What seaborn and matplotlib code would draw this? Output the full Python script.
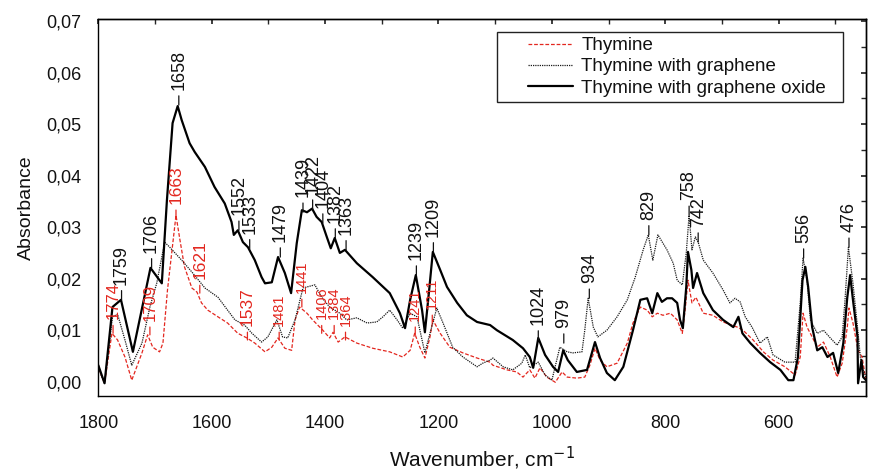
import numpy as np
import pandas as pd
import matplotlib
matplotlib.use("Agg")
import matplotlib.pyplot as plt
from matplotlib.ticker import MultipleLocator, FuncFormatter
from matplotlib.patches import Rectangle
import seaborn as sns

# ---------------- data ----------------
go_wn = [1800, 1789, 1775, 1760, 1739, 1708, 1688, 1679, 1669, 1660, 1653, 1639, 1630, 1612, 1595,
         1577, 1565, 1561, 1554, 1545, 1536, 1524, 1512, 1506, 1494, 1483, 1471, 1460, 1450, 1441,
         1432, 1423, 1415, 1406, 1397, 1390, 1383, 1374, 1365, 1344, 1316, 1286, 1268, 1259, 1250,
         1240, 1229, 1224, 1217, 1210, 1197, 1185, 1167, 1150, 1132, 1109, 1097, 1069, 1051, 1039,
         1033, 1024, 1012, 998, 989, 980, 972, 956, 938, 924, 915, 903, 889, 874, 857, 844, 832,
         823, 814, 806, 797, 788, 779, 774, 769, 763, 760, 754, 751, 744, 733, 716, 698, 680, 671,
         664, 650, 633, 615, 597, 583, 574, 566, 558, 553, 548, 541, 532, 523, 514, 504, 495, 486,
         479, 474, 469, 461, 460, 454, 451, 446]
go_abs = [0.0032, -0.0003, 0.0145, 0.0159, 0.0058, 0.0221, 0.0191, 0.0352, 0.0502, 0.0535, 0.0508,
          0.0463, 0.0446, 0.0417, 0.0378, 0.0346, 0.0310, 0.0285, 0.0294, 0.0271, 0.0261, 0.0236,
          0.0203, 0.0191, 0.0193, 0.0242, 0.0211, 0.0172, 0.0269, 0.0333, 0.0329, 0.0336, 0.0320,
          0.0310, 0.0281, 0.0259, 0.0279, 0.0250, 0.0256, 0.0230, 0.0203, 0.0172, 0.0133, 0.0104,
          0.0159, 0.0207, 0.0139, 0.0096, 0.0172, 0.0252, 0.0217, 0.0184, 0.0153, 0.0129, 0.0116,
          0.0110, 0.0100, 0.0081, 0.0065, 0.0048, 0.0027, 0.0085, 0.0052, 0.0029, 0.0019, 0.0061,
          0.0042, 0.0019, 0.0023, 0.0077, 0.0046, 0.0017, 0.0003, 0.0029, 0.0100, 0.0159, 0.0162,
          0.0133, 0.0172, 0.0155, 0.0162, 0.0162, 0.0153, 0.0120, 0.0104, 0.0184, 0.0252, 0.0217,
          0.0182, 0.0211, 0.0172, 0.0139, 0.0120, 0.0106, 0.0126, 0.0094, 0.0075, 0.0056, 0.0038,
          0.0023, 0.0003, 0.0003, 0.0048, 0.0197, 0.0223, 0.0184, 0.0106, 0.0061, 0.0067, 0.0048,
          0.0056, 0.0017, 0.0075, 0.0164, 0.0207, 0.0159, 0.0087, -0.0003, 0.0042, 0.0009, 0.0003]

gr_wn = [1800, 1789, 1775, 1766, 1753, 1741, 1723, 1709, 1697, 1688, 1683, 1674, 1653, 1635, 1612,
         1589, 1572, 1559, 1542, 1529, 1512, 1501, 1485, 1475, 1466, 1453, 1439, 1418, 1406, 1392,
         1374, 1362, 1344, 1326, 1309, 1298, 1286, 1273, 1263, 1250, 1238, 1229, 1224, 1215, 1203,
         1192, 1175, 1157, 1132, 1122, 1109, 1104, 1086, 1069, 1053, 1047, 1039, 1024, 1012, 1000,
         986, 973, 963, 947, 942, 936, 927, 919, 903, 885, 867, 853, 839, 830, 822, 813, 797, 786,
         779, 770, 763, 758, 753, 747, 742, 733, 716, 698, 686, 677, 668, 659, 647, 633, 620, 610,
         589, 571, 562, 557, 550, 544, 532, 521, 509, 497, 488, 483, 477, 469, 461, 456, 451, 446]
gr_abs = [0.0027, -0.0003, 0.0126, 0.0131, 0.0081, 0.0032, 0.0075, 0.0145, 0.0191, 0.0242, 0.0271,
          0.0261, 0.0236, 0.0213, 0.0182, 0.0164, 0.0139, 0.0120, 0.0110, 0.0094, 0.0077, 0.0087,
          0.0120, 0.0087, 0.0085, 0.0120, 0.0182, 0.0188, 0.0164, 0.0145, 0.0133, 0.0120, 0.0124,
          0.0114, 0.0116, 0.0126, 0.0139, 0.0120, 0.0104, 0.0133, 0.0126, 0.0081, 0.0056, 0.0094,
          0.0143, 0.0114, 0.0067, 0.0048, 0.0029, 0.0036, 0.0042, 0.0046, 0.0029, 0.0023, 0.0036,
          0.0052, 0.0027, 0.0038, 0.0013, 0.0003, 0.0067, 0.0058, 0.0056, 0.0058, 0.0100, 0.0162,
          0.0106, 0.0087, 0.0100, 0.0126, 0.0159, 0.0203, 0.0256, 0.0285, 0.0236, 0.0285, 0.0256,
          0.0230, 0.0197, 0.0188, 0.0250, 0.0323, 0.0256, 0.0281, 0.0271, 0.0236, 0.0211, 0.0178,
          0.0153, 0.0162, 0.0155, 0.0126, 0.0106, 0.0075, 0.0087, 0.0052, 0.0038, 0.0038, 0.0153,
          0.0240, 0.0197, 0.0120, 0.0094, 0.0100, 0.0085, 0.0071, 0.0087, 0.0159, 0.0261, 0.0191,
          0.0106, 0.0048, 0.0023, 0.0009]

th_wn = [1800, 1789, 1776, 1766, 1753, 1741, 1723, 1713, 1704, 1692, 1686, 1678, 1663, 1656, 1648,
         1635, 1626, 1618, 1607, 1589, 1572, 1554, 1538, 1524, 1506, 1494, 1483, 1471, 1459, 1453,
         1445, 1432, 1422, 1404, 1392, 1386, 1377, 1365, 1344, 1316, 1286, 1263, 1250, 1242, 1233,
         1224, 1215, 1210, 1197, 1180, 1157, 1132, 1109, 1104, 1079, 1062, 1051, 1039, 1030, 1021,
         1009, 994, 982, 973, 956, 942, 933, 924, 915, 903, 885, 867, 857, 844, 832, 823, 814, 804,
         791, 779, 770, 765, 760, 753, 746, 733, 716, 698, 673, 663, 645, 627, 610, 589, 571, 562,
         557, 550, 541, 532, 521, 509, 497, 488, 479, 476, 469, 460, 453, 446]
th_abs = [0.0027, -0.0003, 0.0094, 0.0081, 0.0048, 0.0003, 0.0056, 0.0091, 0.0067, 0.0058, 0.0075,
          0.0178, 0.0323, 0.0275, 0.0223, 0.0182, 0.0174, 0.0153, 0.0139, 0.0126, 0.0114, 0.0094,
          0.0085, 0.0075, 0.0058, 0.0067, 0.0085, 0.0065, 0.0061, 0.0120, 0.0145, 0.0133, 0.0120,
          0.0100, 0.0085, 0.0096, 0.0077, 0.0087, 0.0075, 0.0065, 0.0058, 0.0048, 0.0061, 0.0094,
          0.0067, 0.0046, 0.0087, 0.0120, 0.0094, 0.0067, 0.0056, 0.0046, 0.0038, 0.0032, 0.0023,
          0.0019, 0.0009, 0.0023, 0.0007, 0.0027, 0.0009, -0.0001, 0.0019, 0.0009, 0.0007, 0.0009,
          0.0032, 0.0065, 0.0042, 0.0029, 0.0036, 0.0075, 0.0114, 0.0145, 0.0139, 0.0126, 0.0133,
          0.0129, 0.0133, 0.0120, 0.0094, 0.0139, 0.0197, 0.0153, 0.0164, 0.0133, 0.0129, 0.0116,
          0.0106, 0.0100, 0.0081, 0.0058, 0.0042, 0.0029, 0.0013, 0.0048, 0.0133, 0.0106, 0.0087,
          0.0067, 0.0077, 0.0048, 0.0009, 0.0036, 0.0106, 0.0143, 0.0114, 0.0061, 0.0048, 0.0003]

series_names = ["Thymine", "Thymine with graphene", "Thymine with graphene oxide"]

black_labels = ["1759", "1706", "1658", "1552", "1533", "1479", "1439", "1422", "1404", "1382",
                "1363", "1239", "1209", "1024", "979", "934", "829", "758", "742", "556", "476"]
black_label_abs = [0.0159, 0.0221, 0.0537, 0.0294, 0.0258, 0.0242, 0.0329, 0.0335, 0.0308, 0.0279,
                   0.0256, 0.0207, 0.0252, 0.0081, 0.0075, 0.0162, 0.0285, 0.0323, 0.0271, 0.0240,
                   0.0261]
red_labels = ["1774", "1709", "1663", "1621", "1537", "1481", "1441", "1406", "1384", "1364",
              "1241", "1211"]
red_label_abs = [0.0094, 0.0091, 0.0318, 0.0172, 0.0081, 0.0081, 0.0145, 0.0094, 0.0094, 0.0081,
                 0.0091, 0.0114]

x_ticks = [1800, 1600, 1400, 1200, 1000, 800, 600]
y_ticks = [0.00, 0.01, 0.02, 0.03, 0.04, 0.05, 0.06, 0.07]

# ---------------- style ----------------
sns.set_theme(style="white")
plt.rcParams["font.family"] = ["Liberation Sans", "DejaVu Sans"]
plt.rcParams["axes.edgecolor"] = "black"
plt.rcParams["axes.linewidth"] = 1.0

RED = "#e3271f"
INK = "#111111"
red_sizes = [12, 12, 12.5, 12.5, 12.5, 10.5, 10.5, 10.5, 10.5, 10.5, 10.5, 10.5]

fig = plt.figure(figsize=(8.7, 4.72), dpi=100)
ax = fig.add_axes([0.1130, 0.161, 0.8824, 0.7987])

df_th = pd.DataFrame({"wn": th_wn, "A": th_abs})
df_gr = pd.DataFrame({"wn": gr_wn, "A": gr_abs})
df_go = pd.DataFrame({"wn": go_wn, "A": go_abs})

sns.lineplot(data=df_th, x="wn", y="A", ax=ax, color=RED, lw=0.9,
             linestyle=(0, (3, 1.5)), estimator=None, label=series_names[0])
sns.lineplot(data=df_gr, x="wn", y="A", ax=ax, color="#1a1a1a", lw=0.9,
             linestyle=(0, (1, 0.8)), estimator=None, label=series_names[1])
sns.lineplot(data=df_go, x="wn", y="A", ax=ax, color="black", lw=1.6,
             linestyle="-", estimator=None, label=series_names[2])

ax.set_xlim(1800, 446)
ax.set_ylim(-0.00277, 0.0704)
ax.set_xticks(x_ticks)
ax.set_yticks(y_ticks)
ax.xaxis.set_minor_locator(MultipleLocator(100))
ax.yaxis.set_minor_locator(MultipleLocator(0.005))
ax.yaxis.set_major_formatter(FuncFormatter(lambda v, p: f"{v:.2f}".replace(".", ",")))
ax.tick_params(axis="both", which="major", direction="out", length=7, width=1,
               color="black", labelsize=13, labelcolor=INK)
ax.tick_params(axis="both", which="minor", direction="out", length=4, width=1, color="black")
ax.tick_params(axis="x", which="major", pad=7)
ax.tick_params(axis="y", which="major", pad=5)

secx = ax.secondary_xaxis("top")
secx.set_xticks(x_ticks)
secx.xaxis.set_minor_locator(MultipleLocator(100))
secx.tick_params(axis="x", which="both", direction="in", length=3.5, labeltop=False)
secy = ax.secondary_yaxis("right")
secy.set_yticks(y_ticks)
secy.yaxis.set_minor_locator(MultipleLocator(0.005))
secy.tick_params(axis="y", which="both", direction="in", length=3.5, labelright=False)

ax.set_xlabel("Wavenumber, cm$^{-1}$", fontsize=15, labelpad=9, color=INK)
ax.set_ylabel("Absorbance", fontsize=14, labelpad=8, color=INK)

# peak labels
for lab, a in zip(black_labels, black_label_abs):
    ax.annotate(lab, xy=(float(lab), a), xytext=(0, 11), textcoords="offset points",
                rotation=90, ha="center", va="bottom", fontsize=13, color=INK,
                arrowprops=dict(arrowstyle="-", color=INK, lw=0.9,
                                shrinkA=2, shrinkB=0))
for lab, a, fs in zip(red_labels, red_label_abs, red_sizes):
    ax.annotate(lab, xy=(float(lab), a), xytext=(0, 10), textcoords="offset points",
                rotation=90, ha="center", va="bottom", fontsize=fs, color=RED,
                arrowprops=dict(arrowstyle="-", color=RED, lw=0.9,
                                shrinkA=2, shrinkB=0))

# legend with box
handles, labels = ax.get_legend_handles_labels()
ax.add_patch(Rectangle((0.5193, 0.7798), 0.4505, 0.1857, transform=ax.transAxes,
                       facecolor="white", edgecolor="#222222", lw=1.0, zorder=5))
leg = ax.legend(handles, labels, loc="upper left", bbox_to_anchor=(0.5597, 0.952),
                frameon=False, fontsize=13.5, handlelength=2.4, handletextpad=0.45,
                labelspacing=0.22, borderpad=0, borderaxespad=0)
leg.set_zorder(6)
for t in leg.get_texts():
    t.set_color(INK)

fig.savefig("out.png", dpi=100)
